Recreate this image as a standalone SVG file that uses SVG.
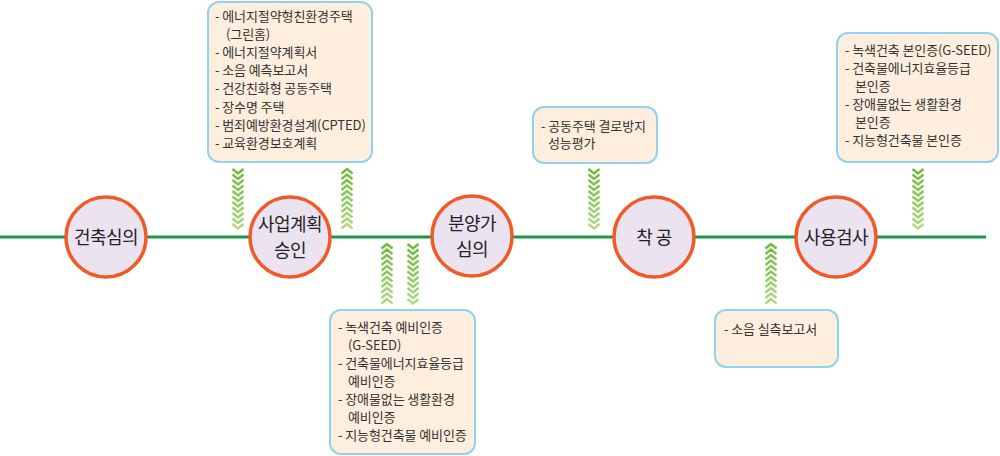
<svg xmlns="http://www.w3.org/2000/svg" width="1000" height="456" viewBox="0 0 1000 456">
<style>
.box{fill:#fdeedd;stroke:#93d1f0;stroke-width:2}
.bt{font-family:"Noto Sans CJK KR","Noto Sans",sans-serif;font-size:13px;fill:#333;letter-spacing:-0.1px}
.node{fill:#ebe3ef;stroke:#f05a28;stroke-width:3.5}
.nt{font-family:"Noto Sans CJK KR","Noto Sans",sans-serif;font-size:18px;fill:#222;text-anchor:middle;letter-spacing:-0.5px}
.chev{fill:none;stroke:url(#cg);stroke-width:2.4}
</style>
<defs>
<linearGradient id="cg" x1="0" y1="0" x2="0" y2="1">
<stop offset="0" stop-color="#6cba36"/>
<stop offset="1" stop-color="#b0d985"/>
</linearGradient>
<path id="down" class="chev" d="M-5.5,0L0,4.5L5.5,0M-5.5,5.5L0,10L5.5,5.5M-5.5,11L0,15.5L5.5,11M-5.5,16.5L0,21L5.5,16.5M-5.5,22L0,26.5L5.5,22M-5.5,27.5L0,32L5.5,27.5M-5.5,33L0,37.5L5.5,33M-5.5,38.5L0,43L5.5,38.5M-5.5,44L0,48.5L5.5,44M-5.5,49.5L0,54L5.5,49.5M-5.5,55L0,59.5L5.5,55"/>
<path id="up" class="chev" d="M-5.5,4.5L0,0L5.5,4.5M-5.5,10L0,5.5L5.5,10M-5.5,15.5L0,11L5.5,15.5M-5.5,21L0,16.5L5.5,21M-5.5,26.5L0,22L5.5,26.5M-5.5,32L0,27.5L5.5,32M-5.5,37.5L0,33L5.5,37.5M-5.5,43L0,38.5L5.5,43M-5.5,48.5L0,44L5.5,48.5M-5.5,54L0,49.5L5.5,54M-5.5,59.5L0,55L5.5,59.5"/>
</defs>
<rect width="1000" height="456" fill="#fff"/>
<g id="connectors">
<line x1="0" y1="237" x2="986" y2="237" stroke="#1a9648" stroke-width="3"/>
<use href="#down" x="238" y="169"/>
<use href="#up" x="347" y="169"/>
<use href="#up" x="387" y="244"/>
<use href="#down" x="413" y="244"/>
<use href="#down" x="594" y="169"/>
<use href="#up" x="771" y="244"/>
<use href="#down" x="918" y="169"/>
</g>
<g id="n1"><circle class="node" cx="106" cy="237" r="40"/><text class="nt" x="106" y="243.5">건축심의</text></g>
<g id="n2"><circle class="node" cx="290" cy="237" r="40"/><text class="nt" x="290" y="230.5">사업계획</text><text class="nt" x="290" y="256.5">승인</text></g>
<g id="n3"><circle class="node" cx="472" cy="236" r="40"/><text class="nt" x="472" y="229.5">분양가</text><text class="nt" x="472" y="255.5">심의</text></g>
<g id="n4"><circle class="node" cx="654" cy="237" r="40"/><text class="nt" x="654" y="243.5" xml:space="preserve">착 공</text></g>
<g id="n5"><circle class="node" cx="836" cy="237" r="40"/><text class="nt" x="836" y="243.5">사용검사</text></g>
<g id="b1"><rect class="box" x="208" y="2" width="164" height="160" rx="11"/>
<text class="bt" x="215" y="21">- 에너지절약형친환경주택</text>
<text class="bt" x="226" y="39">(그린홈)</text>
<text class="bt" x="215" y="57">- 에너지절약계획서</text>
<text class="bt" x="215" y="75">- 소음 예측보고서</text>
<text class="bt" x="215" y="93">- 건강친화형 공동주택</text>
<text class="bt" x="215" y="111.5">- 장수명 주택</text>
<text class="bt" x="215" y="130">- 범죄예방환경설계(CPTED)</text>
<text class="bt" x="215" y="148">- 교육환경보호계획</text>
</g>
<g id="b2"><rect class="box" x="330" y="310" width="145" height="144" rx="11"/>
<text class="bt" x="338" y="331.5">- 녹색건축 예비인증</text>
<text class="bt" x="348" y="349.5">(G-SEED)</text>
<text class="bt" x="338" y="367.5">- 건축물에너지효율등급</text>
<text class="bt" x="348" y="385.5">예비인증</text>
<text class="bt" x="338" y="403.5">- 장애물없는 생활환경</text>
<text class="bt" x="348" y="421.5">예비인증</text>
<text class="bt" x="338" y="439.5">- 지능형건축물 예비인증</text>
</g>
<g id="b3"><rect class="box" x="533" y="107" width="124" height="56" rx="11"/>
<text class="bt" x="541" y="130.5">- 공동주택 결로방지</text>
<text class="bt" x="548" y="148">성능평가</text>
</g>
<g id="b4"><rect class="box" x="715" y="310" width="123" height="57" rx="11"/>
<text class="bt" x="724" y="333.5">- 소음 실측보고서</text>
</g>
<g id="b5"><rect class="box" x="837" y="33" width="161" height="129" rx="11"/>
<text class="bt" x="845" y="54.5">- 녹색건축 본인증(G-SEED)</text>
<text class="bt" x="845" y="72.5">- 건축물에너지효율등급</text>
<text class="bt" x="855" y="91">본인증</text>
<text class="bt" x="845" y="109">- 장애물없는 생활환경</text>
<text class="bt" x="855" y="127">본인증</text>
<text class="bt" x="845" y="144.5">- 지능형건축물 본인증</text>
</g>
</svg>
